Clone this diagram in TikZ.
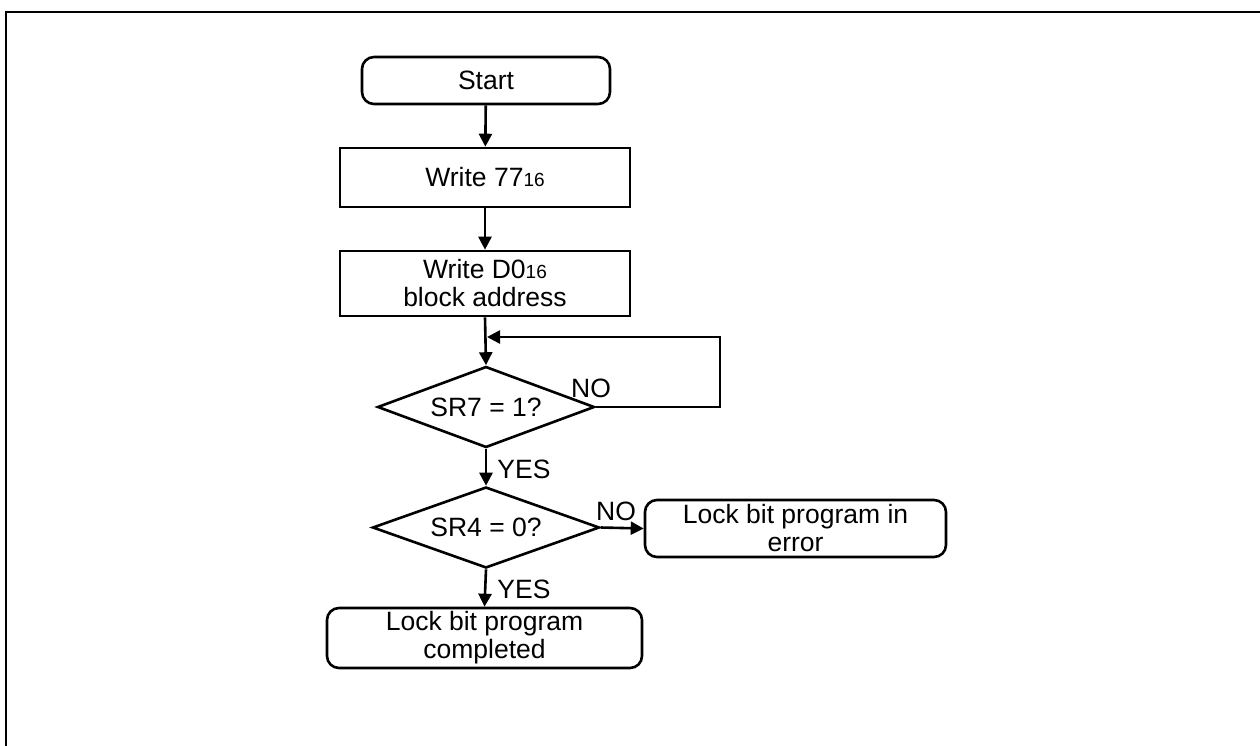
\documentclass[tikz,border=0pt]{standalone}
\usepackage{fontspec}
\setmainfont{Liberation Sans}
\usetikzlibrary{shapes.geometric,arrows.meta}
\newcommand{\sixteen}{{\fontsize{19}{19}\selectfont 16}}
\begin{document}
\begin{tikzpicture}[x=1pt,y=-1pt,
  every node/.style={font=\fontsize{26.5}{28}\selectfont, inner sep=0pt},
  lw/.style={line width=2.6pt},
  procbox/.style={draw, lw, rectangle, minimum width=290pt, align=center},
  termbox/.style={draw, lw, rectangle, rounded corners=12pt, align=center},
  decbox/.style={draw, lw, diamond, aspect=2.7},
  arr/.style={lw, -{Triangle[length=13pt,width=13pt]}},
  lbl/.style={font=\fontsize{26.5}{28}\selectfont}]
\useasboundingbox (0,0) rectangle (1260,745);
\draw[line width=2.8pt] (6,760) -- (6,12) -- (1270,12);

\node[termbox, minimum width=248pt, minimum height=47pt] (start) at (486,80.5) {Start};
\node[procbox, minimum height=59pt] (w77) at (485,177.5) {Write 77\sixteen};
\node[procbox, minimum height=65pt] (wd0) at (485,283.5) {Write D0\sixteen\\block address};
\node[decbox, minimum width=217pt, minimum height=81pt] (d1) at (486,407) {SR7 = 1?};
\node[decbox, minimum width=227pt, minimum height=81pt] (d2) at (486,527.5) {SR4 = 0?};
\node[termbox, minimum width=301pt, minimum height=57pt] (err) at (795.5,528.5) {Lock bit program in\\error};
\node[termbox, minimum width=315pt, minimum height=60pt] (done) at (484.5,638) {Lock bit program\\completed};

\coordinate (loopend) at (487,337);
\coordinate (loopcorner) at (720,407);

\draw[arr] (start) -- (w77);
\draw[arr] (w77) -- (wd0);
\draw[arr] (wd0.south) -- (d1.north);
\draw[arr] (d1.east) -- (loopcorner) |- (loopend);
\draw[arr] (d1.south) -- (d2.north);
\draw[arr] (d2.east) -- (err.west);
\draw[arr] (d2.south) -- (done.north);

\node[lbl] (no1) at (591,388) {NO};
\node[lbl] (yes1) at (524,469) {YES};
\node[lbl] (no2) at (616,511) {NO};
\node[lbl] (yes2) at (524,589) {YES};
\end{tikzpicture}
\end{document}
